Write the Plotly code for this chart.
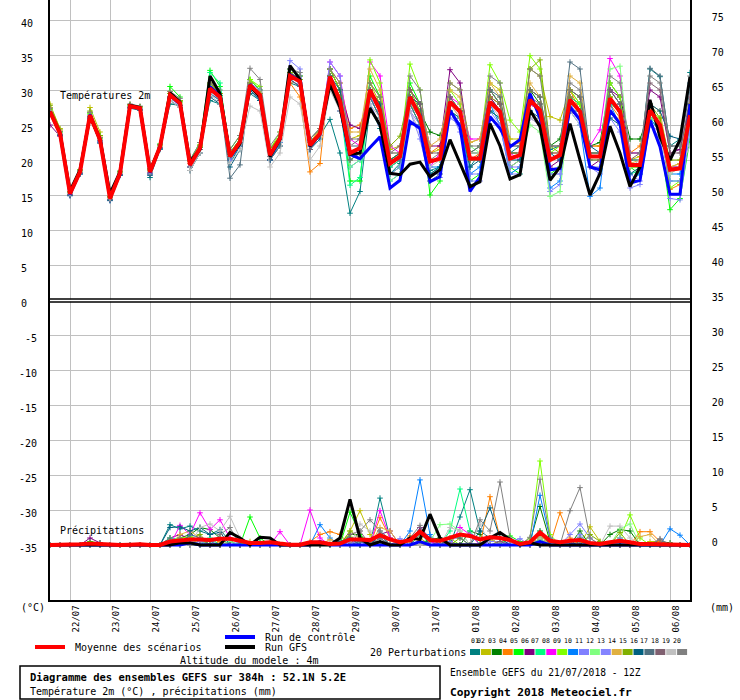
import pandas as pd
import plotly.graph_objects as go

# GEFS run 21/07/2018 12Z, one step every 6h over 384h
times = pd.date_range("2018-07-21 12:00", periods=65, freq="6h")

# 2m temperature (degC)
t_mean = [26.9, 23.8, 15.2, 18.3, 26.4, 22.9, 14.5, 18.1, 27.7, 27.4, 18.3, 21.9, 29.3, 28.1, 19.3, 21.7,
          30.2, 29.0, 20.5, 22.6, 30.7, 29.3, 20.7, 23.1, 32.0, 31.2, 22.1, 23.8, 31.9, 28.4, 21.0, 21.7,
          30.0, 27.1, 19.5, 20.5, 29.0, 26.2, 19.8, 20.2, 28.3, 26.9, 20.2, 20.2, 28.3, 26.9, 20.2, 20.7,
          28.6, 27.1, 20.0, 20.7, 28.6, 26.9, 20.5, 20.5, 28.8, 26.9, 19.3, 19.3, 27.1, 25.0, 18.6, 18.8,
          26.4]
t_gfs = [26.9, 23.9, 15.6, 18.6, 26.2, 23.0, 15.2, 18.3, 27.8, 27.5, 18.5, 21.8, 29.6, 28.3, 19.8, 21.5,
         32.0, 29.5, 20.5, 22.3, 30.5, 29.0, 20.5, 23.0, 33.5, 31.5, 22.0, 23.8, 30.8, 27.5, 20.8, 21.0,
         27.4, 25.0, 18.1, 17.9, 19.4, 19.7, 17.6, 18.6, 22.9, 19.6, 16.2, 16.9, 25.2, 22.0, 17.3, 17.9,
         27.1, 24.8, 17.1, 19.0, 25.2, 20.0, 15.0, 18.1, 24.8, 21.0, 16.2, 19.0, 28.6, 23.3, 20.0, 22.9,
         31.9]
t_ctrl = [26.9, 23.8, 15.1, 18.3, 26.5, 22.9, 14.6, 18.0, 27.7, 27.4, 18.2, 21.9, 29.3, 28.0, 19.3, 21.6,
          30.5, 29.2, 20.6, 22.5, 30.8, 29.3, 20.6, 23.0, 32.2, 31.3, 22.0, 23.7, 31.5, 28.0, 20.8, 20.2,
          21.8, 23.3, 16.0, 17.1, 25.5, 24.5, 16.9, 17.6, 27.1, 24.8, 15.5, 17.6, 26.2, 24.5, 21.9, 22.9,
          29.5, 26.0, 18.6, 18.8, 27.6, 25.7, 19.0, 18.6, 27.1, 25.2, 16.7, 17.1, 25.7, 21.9, 15.1, 15.1,
          28.0]

t01 = [26.8, 23.6, 15.0, 18.0, 26.0, 22.5, 14.3, 18.0, 27.5, 27.3, 17.5, 21.5, 28.0, 27.8, 19.0, 21.5,
       28.5, 28.0, 19.5, 22.0, 29.5, 28.5, 20.0, 22.5, 31.0, 30.5, 21.5, 23.5, 25.8, 21.0, 12.4, 15.5,
       27.5, 24.5, 18.0, 19.5, 28.0, 25.0, 18.5, 19.0, 27.0, 25.0, 19.0, 21.0, 30.0, 28.0, 21.0, 22.0,
       30.0, 29.0, 21.5, 22.0, 29.0, 28.0, 21.0, 21.0, 30.0, 28.0, 20.0, 20.0, 33.0, 31.9, 22.0, 23.0,
       32.5]
t02 = [28.0, 24.5, 15.5, 18.5, 27.5, 24.0, 14.8, 18.3, 27.9, 27.6, 18.6, 22.2, 29.8, 28.5, 20.0, 22.0,
       31.0, 29.5, 21.0, 23.0, 31.5, 30.0, 21.5, 23.5, 32.5, 31.5, 22.5, 24.0, 33.0, 30.0, 23.0, 23.5,
       31.0, 28.0, 21.5, 22.0, 30.0, 28.0, 21.0, 21.5, 31.0, 30.0, 22.5, 23.0, 31.0, 30.0, 23.0, 23.0,
       33.0, 32.0, 26.2, 25.7, 30.0, 28.0, 22.0, 22.0, 29.0, 27.0, 20.0, 20.5, 26.0, 25.0, 19.0, 19.5,
       27.0]
t03 = [27.5, 24.0, 15.3, 18.4, 26.8, 23.0, 14.6, 18.2, 27.8, 27.5, 18.5, 22.0, 29.5, 28.3, 19.5, 21.8,
       30.5, 29.2, 20.8, 23.0, 31.0, 29.5, 21.0, 23.5, 32.5, 31.5, 22.0, 24.0, 31.0, 29.0, 22.0, 22.0,
       30.0, 28.0, 20.0, 21.0, 29.0, 27.0, 24.0, 23.5, 28.0, 27.0, 21.0, 21.0, 29.0, 27.0, 21.0, 21.0,
       30.0, 28.0, 22.0, 23.0, 30.0, 29.0, 22.0, 22.5, 31.0, 29.0, 23.0, 23.0, 27.0, 25.0, 19.0, 19.0,
       26.0]
t04 = [27.0, 23.8, 15.2, 18.3, 26.5, 23.0, 14.5, 18.0, 27.6, 27.3, 18.0, 21.8, 29.5, 28.0, 19.5, 22.0,
       30.0, 28.8, 20.5, 22.5, 30.5, 29.0, 20.5, 23.0, 31.0, 29.0, 18.3, 19.5, 33.0, 31.0, 24.5, 25.0,
       29.0, 26.0, 20.0, 21.0, 29.0, 26.0, 21.0, 22.0, 28.0, 26.0, 20.0, 21.0, 29.0, 28.0, 22.0, 22.5,
       30.0, 29.0, 21.0, 21.0, 30.0, 27.0, 22.0, 22.0, 28.0, 26.0, 21.0, 22.0, 27.0, 25.0, 15.8, 16.5,
       25.0]
t05 = [27.3, 24.0, 15.4, 18.6, 26.8, 23.5, 14.8, 18.4, 27.9, 27.6, 18.8, 22.3, 30.5, 29.0, 20.0, 22.5,
       32.8, 30.5, 21.5, 23.5, 31.5, 30.0, 21.0, 23.5, 33.0, 32.0, 23.0, 24.5, 33.0, 30.0, 17.0, 17.0,
       32.0, 29.0, 18.0, 19.0, 31.0, 28.0, 15.0, 17.0, 29.0, 27.0, 17.0, 18.0, 30.0, 28.0, 19.0, 18.0,
       27.0, 25.0, 18.0, 19.0, 28.0, 27.0, 21.0, 21.0, 29.0, 27.0, 19.0, 18.0, 25.0, 23.0, 12.9, 14.5,
       23.0]
t06 = [25.0, 23.4, 15.0, 18.2, 26.2, 22.8, 14.4, 18.0, 27.5, 27.2, 18.2, 21.8, 29.0, 27.8, 19.0, 21.5,
       30.0, 28.5, 20.0, 22.0, 30.5, 29.0, 20.0, 22.5, 32.5, 31.5, 23.0, 24.5, 33.0, 30.0, 25.0, 24.5,
       30.0, 27.0, 19.0, 20.0, 30.0, 28.0, 22.0, 22.0, 32.9, 31.0, 21.0, 22.0, 29.0, 27.0, 19.0, 20.0,
       28.0, 27.0, 19.0, 20.0, 27.0, 26.0, 19.0, 20.0, 30.0, 29.0, 21.0, 21.0, 30.0, 29.0, 21.0, 21.5,
       28.0]
t07 = [27.0, 24.0, 15.2, 18.4, 26.6, 23.2, 14.6, 18.2, 27.7, 27.4, 18.4, 22.0, 29.5, 28.5, 19.5, 22.0,
       32.5, 31.0, 21.0, 23.0, 31.0, 29.5, 20.5, 23.0, 32.5, 31.5, 22.5, 24.0, 32.0, 28.0, 16.4, 17.5,
       29.0, 26.0, 19.0, 20.0, 28.0, 25.0, 18.0, 19.0, 27.0, 26.0, 20.0, 20.0, 27.0, 26.0, 18.0, 19.0,
       28.0, 27.0, 20.0, 21.0, 29.0, 28.0, 21.0, 21.0, 28.0, 27.0, 18.0, 18.5, 26.0, 24.0, 17.0, 17.0,
       25.0]
t08 = [26.5, 23.7, 15.1, 18.2, 26.3, 22.8, 14.4, 18.0, 27.6, 27.3, 18.2, 21.8, 29.5, 28.5, 19.5, 21.5,
       30.5, 29.5, 20.5, 22.5, 31.0, 29.5, 21.0, 23.0, 32.0, 31.0, 22.0, 23.5, 34.0, 32.0, 23.0, 22.0,
       34.0, 32.0, 22.0, 21.0, 28.0, 26.0, 19.0, 21.0, 29.0, 28.0, 23.0, 23.0, 29.0, 28.0, 21.0, 20.0,
       28.0, 27.0, 20.0, 21.0, 29.0, 27.0, 22.0, 24.3, 34.5, 32.0, 21.0, 21.0, 27.0, 25.0, 19.0, 19.0,
       27.0]
t09 = [27.2, 24.0, 15.3, 18.4, 26.6, 23.1, 14.6, 18.2, 27.8, 27.5, 18.6, 22.1, 29.5, 28.3, 19.8, 22.2,
       30.8, 29.5, 21.0, 23.0, 31.5, 30.5, 21.5, 24.0, 33.0, 32.0, 22.5, 24.5, 33.0, 30.0, 21.0, 21.0,
       34.3, 31.0, 20.0, 21.0, 33.7, 30.0, 20.0, 20.0, 30.0, 28.0, 21.0, 22.0, 33.6, 31.0, 25.7, 24.0,
       34.9, 33.0, 21.0, 22.0, 30.0, 28.0, 20.0, 20.0, 31.0, 29.0, 19.0, 19.0, 27.0, 26.0, 16.0, 17.0,
       26.0]
t10 = [26.8, 23.7, 15.0, 18.2, 26.2, 22.7, 14.3, 17.9, 27.6, 27.3, 18.0, 21.7, 29.0, 27.8, 19.0, 21.5,
       29.5, 28.5, 20.0, 22.0, 30.0, 28.5, 20.0, 22.5, 31.5, 30.5, 21.5, 23.5, 31.0, 27.0, 19.0, 20.0,
       29.0, 26.0, 17.0, 18.0, 29.0, 27.0, 19.0, 19.0, 27.0, 25.0, 18.0, 19.0, 28.0, 25.0, 18.0, 19.0,
       27.0, 25.0, 16.0, 17.0, 27.0, 25.0, 14.8, 16.0, 28.0, 25.0, 17.0, 18.0, 26.0, 24.0, 18.0, 18.0,
       25.0]
t11 = [26.5, 23.5, 14.9, 18.0, 26.0, 22.5, 14.2, 17.8, 27.5, 27.2, 18.0, 21.6, 29.0, 27.5, 19.0, 21.5,
       30.0, 29.0, 20.5, 22.5, 31.0, 30.0, 21.0, 23.0, 34.2, 33.0, 22.5, 24.0, 34.0, 32.0, 21.0, 21.0,
       28.0, 25.0, 18.0, 19.0, 27.0, 23.0, 17.0, 17.5, 27.0, 24.0, 18.0, 18.0, 26.0, 25.0, 18.0, 18.0,
       27.0, 25.0, 15.5, 16.5, 28.0, 26.0, 19.0, 18.0, 27.0, 25.0, 18.0, 17.0, 25.0, 23.0, 14.5, 14.3,
       24.0]
t12 = [27.1, 23.9, 15.2, 18.4, 26.5, 23.0, 14.5, 18.1, 27.7, 27.4, 18.3, 22.0, 29.0, 28.0, 19.0, 21.5,
       30.0, 29.0, 20.5, 22.5, 30.5, 29.5, 21.0, 23.5, 32.0, 31.0, 22.0, 24.0, 32.0, 29.0, 19.0, 20.0,
       30.0, 27.0, 17.0, 18.0, 28.0, 26.0, 20.0, 20.0, 27.0, 26.0, 22.0, 21.0, 27.0, 26.0, 19.0, 20.0,
       25.0, 24.0, 14.8, 15.5, 28.0, 27.0, 21.0, 21.0, 33.0, 33.4, 20.0, 20.0, 26.0, 25.0, 18.0, 19.0,
       25.0]
t13 = [26.7, 23.6, 15.0, 18.1, 26.3, 22.8, 14.4, 18.0, 27.6, 27.3, 18.1, 21.8, 29.0, 27.8, 19.0, 21.5,
       30.0, 28.8, 20.0, 22.5, 30.5, 29.0, 20.5, 23.0, 32.0, 31.0, 22.0, 23.5, 31.0, 27.0, 22.0, 22.0,
       29.0, 27.0, 20.0, 20.0, 27.0, 25.0, 18.0, 18.0, 26.0, 25.0, 17.0, 17.0, 27.0, 25.0, 19.0, 19.0,
       26.0, 25.0, 18.0, 18.0, 28.0, 26.0, 19.0, 19.0, 26.0, 24.0, 16.0, 16.5, 25.0, 24.0, 17.0, 17.0,
       24.0]
t14 = [27.5, 24.2, 15.4, 18.5, 26.8, 23.3, 14.7, 18.3, 27.9, 27.5, 18.5, 22.0, 29.5, 28.5, 19.5, 22.0,
       30.5, 29.5, 21.0, 23.0, 31.0, 29.5, 21.0, 23.5, 32.5, 31.5, 22.5, 24.5, 32.0, 29.0, 24.0, 24.0,
       33.0, 30.0, 21.0, 21.0, 29.0, 28.0, 22.0, 23.0, 30.0, 29.0, 22.5, 23.0, 31.0, 29.0, 21.0, 21.0,
       31.0, 29.0, 22.0, 22.0, 32.0, 31.0, 21.0, 21.0, 29.0, 27.0, 19.5, 20.0, 28.0, 27.0, 19.0, 19.5,
       27.0]
t15 = [27.8, 24.4, 15.5, 18.6, 27.0, 23.5, 14.8, 18.4, 27.9, 27.6, 18.7, 22.2, 29.5, 28.5, 20.0, 22.0,
       31.0, 29.5, 21.0, 23.0, 31.0, 29.5, 21.5, 23.5, 32.5, 31.5, 22.5, 24.0, 32.0, 29.0, 20.0, 21.0,
       31.0, 29.0, 22.0, 23.4, 30.0, 27.0, 20.0, 20.0, 28.0, 27.0, 20.0, 20.0, 29.0, 28.0, 21.0, 21.0,
       33.0, 34.3, 22.0, 21.0, 29.0, 27.0, 21.0, 21.0, 29.0, 27.0, 19.0, 19.0, 28.0, 26.0, 20.0, 20.0,
       28.0]
t16 = [26.6, 23.5, 14.9, 18.0, 26.0, 22.4, 14.2, 17.8, 27.4, 27.1, 17.8, 21.6, 28.5, 27.5, 18.5, 21.0,
       29.0, 28.0, 19.0, 21.5, 30.0, 28.5, 20.0, 22.0, 31.5, 30.5, 21.5, 23.0, 32.0, 30.0, 21.0, 22.0,
       30.0, 28.0, 20.0, 21.0, 29.0, 28.0, 18.0, 19.0, 27.0, 26.0, 19.0, 20.0, 27.0, 26.0, 20.0, 20.0,
       27.0, 26.0, 21.0, 20.0, 27.0, 27.0, 22.0, 21.0, 26.0, 25.0, 18.0, 19.0, 28.0, 27.0, 23.4, 23.0,
       31.0]
t17 = [26.6, 23.6, 15.0, 18.1, 26.2, 22.7, 14.3, 17.9, 27.5, 27.2, 18.0, 21.7, 28.5, 27.5, 18.5, 21.0,
       29.5, 28.5, 17.4, 19.3, 30.5, 29.0, 20.0, 22.0, 33.0, 32.0, 22.0, 23.5, 31.0, 27.0, 20.0, 21.0,
       29.0, 26.0, 20.0, 20.0, 28.0, 25.0, 17.0, 18.0, 29.0, 27.0, 21.0, 22.0, 30.0, 29.0, 22.0, 22.0,
       30.0, 29.0, 22.0, 22.0, 34.0, 33.0, 21.0, 21.0, 30.0, 28.0, 20.0, 20.0, 33.1, 32.0, 22.0, 22.0,
       30.0]
t18 = [26.8, 23.7, 15.1, 18.2, 26.3, 22.8, 14.4, 18.0, 27.6, 27.3, 18.2, 21.8, 29.0, 27.8, 19.0, 21.5,
       30.0, 28.8, 20.5, 22.5, 30.5, 29.0, 20.5, 23.0, 31.5, 30.5, 21.5, 23.5, 32.0, 28.0, 22.0, 23.0,
       30.0, 27.0, 21.0, 22.0, 30.0, 28.0, 21.0, 21.0, 29.0, 27.0, 20.0, 20.0, 30.0, 28.0, 21.0, 21.0,
       29.0, 28.0, 21.0, 21.0, 30.0, 29.0, 20.0, 20.0, 30.0, 28.0, 20.0, 21.0, 31.0, 30.0, 21.0, 21.0,
       29.0]
t19 = [27.0, 23.8, 15.2, 18.3, 26.4, 22.9, 14.5, 18.1, 27.7, 27.4, 18.3, 21.9, 28.5, 27.5, 18.5, 21.0,
       29.5, 28.0, 19.5, 21.5, 27.7, 27.0, 19.0, 21.0, 29.0, 28.0, 20.0, 22.0, 30.0, 27.0, 22.0, 22.0,
       28.0, 26.0, 21.0, 21.0, 27.0, 24.0, 19.0, 20.0, 28.0, 26.0, 21.0, 21.0, 28.0, 26.0, 20.0, 21.0,
       26.0, 25.0, 20.0, 21.0, 27.0, 25.0, 19.0, 19.0, 27.0, 25.0, 19.0, 20.0, 25.0, 23.0, 18.0, 19.0,
       22.0]
t20 = [27.4, 24.1, 15.4, 18.5, 26.8, 23.2, 14.7, 18.3, 28.0, 27.7, 18.6, 22.2, 29.8, 28.8, 20.0, 22.5,
       31.0, 30.0, 21.5, 23.5, 33.1, 31.5, 22.0, 24.0, 33.0, 32.5, 23.0, 24.5, 33.0, 31.0, 23.0, 23.0,
       31.0, 29.0, 21.0, 21.0, 32.0, 30.0, 20.0, 21.0, 31.0, 30.0, 22.0, 22.0, 32.0, 31.0, 22.0, 22.0,
       33.0, 32.0, 22.0, 22.0, 31.0, 30.0, 21.0, 21.0, 32.0, 31.0, 21.0, 21.0, 32.0, 31.0, 22.0, 22.0,
       32.0]

# precipitation (mm / 6h)
p_mean = [0, 0, 0, 0.1, 0.2, 0.1, 0, 0, 0.05, 0.1, 0, 0, 0.5, 0.7, 0.8, 0.8,
          0.7, 0.9, 0.9, 0.6, 0.3, 0.3, 0.4, 0.2, 0.05, 0.05, 0.4, 0.4, 0.15, 0.2, 0.8, 0.8,
          0.7, 1.4, 0.8, 0.4, 0.7, 1.9, 0.7, 0.6, 1.0, 1.5, 1.3, 0.8, 1.1, 1.0, 0.7, 0.15,
          0.4, 1.8, 0.6, 0.4, 0.6, 0.7, 0.3, 0.15, 0.4, 0.6, 0.4, 0.15, 0.15, 0.15, 0.15, 0.05,
          0]
p_gfs = [0, 0, 0, 0, 0, 0, 0, 0, 0, 0, 0, 0, 0, 0.3, 0.3, 0,
         0, 0, 1.8, 1.0, 0, 1.1, 1.0, 0, 0, 0, 0, 0, 0, 1.0, 6.5, 1.0,
         0, 0.5, 0, 0, 1.0, 0.8, 4.4, 1.0, 0, 0, 0, 0, 1.0, 1.8, 0.8, 0,
         0.3, 0, 0, 0, 0, 0, 0, 0, 0, 0, 0, 0, 0, 0, 0, 0,
         0]
p_ctrl = [0, 0, 0, 0, 0, 0, 0, 0, 0, 0, 0, 0, 0, 0, 0.3, 0,
          0, 0, 0, 0, 0, 0, 0, 0, 0, 0, 0, 0.5, 0, 0, 0, 0,
          0, 0, 0, 0, 0, 0.5, 0, 0, 0, 0, 0, 0, 0, 0, 0, 0,
          0, 0.5, 0, 0, 0, 0, 0, 0, 0, 0, 0, 0, 0, 0, 0, 0,
          0]

p01 = [0, 0, 0, 0, 0, 0, 0, 0, 0, 0, 0, 0, 2.9, 2.3, 2.7, 2.0,
       1.5, 2.2, 0.5, 0, 0, 0, 0.3, 0, 0, 0, 0, 0, 0, 0, 1.0, 0.5,
       0, 6.7, 1.0, 0, 0, 1.5, 0.5, 0, 0, 4.0, 7.9, 2.0, 1.0, 0, 0, 0,
       0, 1.0, 0, 0, 0, 0.5, 0, 0, 0, 0, 0, 0, 0, 0, 0, 0,
       0]
p02 = [0, 0, 0, 0, 0.3, 0, 0, 0, 0, 0, 0, 0, 0, 0.5, 1.0, 0.8,
       0, 0, 0, 0, 0.5, 0.5, 0, 0, 0, 0, 0, 0, 0, 0, 2.0, 4.9,
       1.5, 0, 0, 0, 0.5, 1.0, 0, 0, 0.5, 0, 0, 0, 0.8, 0, 0, 0,
       0, 1.5, 0, 0, 0, 0, 2.6, 0.5, 0, 0, 0, 0, 0.5, 0.5, 0, 0,
       0]
p03 = [0, 0, 0, 0, 0, 0, 0, 0, 0, 0, 0, 0, 0, 1.0, 1.5, 2.5,
       2.2, 1.0, 0, 0.3, 0, 0, 0, 0, 0, 0, 0, 0, 0, 0, 1.5, 1.5,
       0, 0, 0, 0, 0, 0, 0.8, 1.0, 0, 0, 2.0, 1.5, 0, 0, 0, 0,
       0.5, 5.5, 0.5, 0, 0, 2.0, 0, 0, 1.5, 2.2, 2.0, 0, 0, 0.5, 0.3, 0,
       0]
p04 = [0, 0, 0, 0, 0, 0, 0, 0, 0, 0, 0, 0, 0, 0.5, 0.8, 0,
       0, 0.5, 0, 0, 0, 0, 0, 0, 0, 0, 0.5, 1.5, 1.9, 1.5, 0, 0,
       0, 3.9, 1.0, 0, 1.3, 0.5, 0, 0, 0, 0, 0, 0, 6.9, 1.0, 0, 0,
       0, 1.0, 0, 4.6, 1.0, 0, 0, 0, 0, 0, 0, 1.9, 1.9, 0.5, 0, 0,
       0]
p05 = [0, 0, 0, 0, 0.5, 0.3, 0, 0, 0, 0, 0, 0, 0, 0, 1.0, 0.5,
       0, 0, 0, 0, 4.0, 1.0, 0, 0, 0, 0, 0, 0, 0, 0, 4.7, 1.5,
       0, 0, 0, 0, 0, 0, 1.0, 0.5, 0, 0, 0, 0, 0, 0, 1.3, 0.5,
       0, 2.0, 0, 0, 0, 0, 0, 0, 0, 0, 0, 0, 0, 0, 0, 0,
       0]
p06 = [0, 0, 0, 0, 1.0, 0.3, 0, 0, 0, 0, 0, 0, 1.0, 1.5, 0.8, 0,
       0, 0, 0, 0, 0, 0, 0, 0, 0, 0, 0, 0, 0, 0, 0.5, 0,
       0, 1.5, 2.0, 0, 0, 2.5, 1.0, 0, 0, 0, 0, 0, 0.5, 0.5, 0, 0,
       0, 0, 0, 0, 0, 0, 0, 0, 0, 0, 0, 0, 0, 0, 0, 0,
       0]
p07 = [0, 0, 0, 0, 0, 0, 0, 0, 0, 0, 0, 0, 1.0, 0.8, 0, 0,
       1.0, 0, 0, 0, 0, 0.5, 0, 0, 0, 0, 0, 0, 0, 0, 0, 0,
       0, 1.0, 0, 0, 0, 0, 0, 0, 2.0, 8.0, 2.0, 0, 0, 0, 0, 0,
       0, 0.8, 0, 0, 0, 0, 0, 0, 0, 1.0, 0, 0, 0, 0, 0, 0,
       0]
p08 = [0, 0, 0, 0, 0, 0, 0, 0, 0, 0, 0, 0, 0, 2.8, 1.5, 4.6,
       2.2, 3.6, 1.0, 0.5, 0, 0, 0, 1.9, 0, 0, 5.0, 1.0, 0, 0, 1.0, 0,
       0, 4.9, 1.0, 0, 0, 0, 0.5, 0, 0, 2.5, 1.5, 0, 0, 0, 0, 0,
       0, 0, 0, 0, 0, 0, 0, 0, 0, 0, 0, 0, 0, 0, 0, 0,
       0]
p09 = [0, 0, 0, 0, 0, 0, 0, 0, 0, 0, 0, 0, 0.5, 1.0, 1.2, 0,
       0, 0, 0, 0.3, 0, 0, 0, 0, 0, 0, 0, 0, 0, 0, 1.5, 0,
       0, 0.5, 0, 0, 0, 0, 0, 0, 1.0, 0, 0, 0, 0, 0, 0, 0,
       1.0, 12.0, 1.5, 0, 0, 0, 0, 0, 0, 1.0, 4.3, 1.0, 0, 0, 0, 0,
       0]
p10 = [0, 0, 0, 0, 0, 0, 0, 0, 0, 0, 0, 0, 0, 0, 1.5, 1.0,
       0.5, 0, 0, 0, 0, 0, 0, 0, 0, 0, 0, 2.9, 1.0, 0, 0, 0.5,
       0, 0, 0, 0, 2.0, 9.3, 1.5, 0, 0, 0, 0, 0, 1.0, 0, 0, 0,
       0, 7.1, 1.0, 0, 0, 0, 0, 0, 0, 0, 0, 0, 0, 0, 2.3, 1.4,
       0]
p11 = [0, 0, 0, 0, 0, 0, 0, 0, 0, 0, 0, 0, 0, 0.5, 0.8, 0,
       0, 0, 0, 0.5, 0, 0, 0, 0, 0, 0, 0, 0, 0, 0, 0.5, 0.5,
       0, 0, 0, 0.9, 0, 0, 0, 0, 0.5, 0, 0, 0, 0, 0, 0.5, 0.9,
       0, 0, 0, 0, 1.5, 3.0, 1.0, 0, 0, 0, 0, 0, 0, 0, 0, 0,
       0]
p12 = [0, 0, 0, 0, 0, 0, 0, 0, 0, 0, 0, 0, 1.0, 0, 0.8, 0,
       0, 0, 0.5, 0, 0, 0, 0, 0, 0, 0, 0, 0, 0, 0, 1.0, 0,
       0, 0, 0, 0, 0, 0, 0.5, 2.9, 3.0, 2.0, 0, 0, 0, 0.5, 0, 0,
       0, 0, 0, 0, 0, 1.0, 0, 0, 0, 2.3, 3.0, 0, 0, 0, 0, 0,
       0]
p13 = [0, 0, 0, 0, 0, 0, 0, 0, 0, 0, 0, 0, 0, 0.8, 0, 0.5,
       0, 0, 0, 0, 0, 0, 0, 0, 0, 0, 0, 0, 0, 0, 0.5, 0,
       0, 1.0, 0, 0, 0, 0.5, 0, 0, 0, 0, 0, 0, 0.5, 0.5, 0, 0,
       0, 0, 0, 0, 0, 1.5, 0, 0, 0, 1.0, 0, 0, 0, 0, 0, 0,
       0]
p14 = [0, 0, 0, 0, 0, 0, 0, 0, 0, 0, 0, 0, 0, 1.5, 2.0, 1.0,
       0, 0, 0, 0, 0, 0, 0.5, 0, 0, 0, 0, 0, 0.8, 0, 0, 0,
       0, 2.5, 2.0, 0, 0, 0, 0, 0, 0, 0, 0, 0, 1.0, 0, 0, 0,
       0, 1.5, 0, 0, 0, 0, 0, 0, 0, 0, 0, 1.2, 1.5, 0, 0, 0,
       0]
p15 = [0, 0, 0, 0, 0, 0, 0, 0, 0, 0, 0, 0, 0, 0, 0.8, 1.5,
       0, 0, 0, 0, 0, 0, 0, 0, 0, 0, 0, 0, 0, 0, 2.0, 1.0,
       0, 0, 0, 0, 0, 0.5, 0, 0, 0, 1.0, 0, 0, 0, 0, 0, 0,
       0, 1.0, 0, 0, 0, 0, 1.5, 0.5, 0, 1.8, 0, 0, 0, 0, 0, 0,
       0]
p16 = [0, 0, 0, 0, 0, 0, 0, 0, 0, 0, 0, 0, 2.5, 2.6, 2.0, 2.5,
       1.5, 1.8, 0, 0, 0, 0, 0, 0, 0, 0, 0, 0, 0, 0.5, 1.0, 0,
       0, 1.5, 0, 0, 1.0, 2.0, 0, 0, 0, 0, 0, 2.0, 5.3, 1.0, 0, 0,
       0, 0, 0, 0, 0, 0, 0, 0, 0, 0, 0, 0, 0, 0, 0, 0,
       0]
p17 = [0, 0, 0, 0, 0, 0, 0, 0, 0, 0, 0, 0, 1.0, 0, 1.5, 1.0,
       0, 0, 0, 0, 0, 0, 0, 0, 0, 0, 0, 0, 0, 0, 0, 0.5,
       0, 2.0, 0.8, 0, 0, 0, 0, 0, 1.0, 1.0, 0, 0, 0, 0, 0, 0,
       0, 2.0, 0, 0, 0, 1.0, 0, 0, 0, 0, 0, 0, 0, 0, 0, 0,
       0]
p18 = [0, 0, 0, 0, 0, 0, 0, 0, 0, 0, 0, 0, 0, 0.5, 0, 0,
       0, 0, 0, 0, 0, 0, 0, 0, 0, 0, 0, 0, 0, 0, 1.5, 2.0,
       0, 1.0, 0, 0, 0, 0, 0, 0.5, 0, 0, 0, 0, 0, 0.5, 0, 0,
       0, 0, 0, 0, 0, 0, 0, 0, 0, 0, 0, 0, 0, 0.8, 0, 0,
       0]
p19 = [0, 0, 0, 0, 0, 0, 0, 0, 0, 0, 0, 0, 0, 0, 0, 2.5,
       3.0, 2.0, 4.1, 1.0, 0, 0, 0, 0, 0, 0, 0, 0, 0, 0, 0, 3.0,
       2.0, 0, 0, 0, 0, 0, 0, 0, 2.5, 2.0, 0, 3.0, 0, 0, 0, 0,
       0, 1.0, 0, 0, 0, 0, 0, 0, 2.7, 2.7, 1.0, 0, 0, 0, 0, 0,
       0]
p20 = [0, 0, 0, 0, 0, 0, 0, 0, 0, 0, 0, 0, 0, 1.0, 0, 0,
       0, 1.5, 2.5, 0, 0, 0, 0, 0, 0, 0, 0, 0, 0, 0, 0, 2.0,
       3.6, 2.0, 0, 0, 1.0, 2.8, 0, 0, 0, 0, 0, 3.6, 2.0, 9.0, 1.0, 0,
       1.1, 9.4, 1.0, 0, 4.9, 8.2, 1.0, 0, 0, 0, 0, 0, 0, 0.9, 0, 0,
       0]

member_names = ["01", "02", "03", "04", "05", "06", "07", "08", "09", "10",
                "11", "12", "13", "14", "15", "16", "17", "18", "19", "20"]
member_colors = ["#008080", "#c0c000", "#008000", "#ff8000", "#00ff00", "#800080", "#00ff80",
                 "#ff00ff", "#80ff00", "#0080ff", "#8080ff", "#80ff80", "#8484ff", "#e0b040",
                 "#80b000", "#006080", "#507080", "#806070", "#c0c0c0", "#808080"]
t_members = [t01, t02, t03, t04, t05, t06, t07, t08, t09, t10,
             t11, t12, t13, t14, t15, t16, t17, t18, t19, t20]
p_members = [p01, p02, p03, p04, p05, p06, p07, p08, p09, p10,
             p11, p12, p13, p14, p15, p16, p17, p18, p19, p20]

FONT = "DejaVu Sans Mono"
W, H = 740, 700
ML, MR, MT, MB = 50, 50, 0, 100
PW, PH = W - ML - MR, H - MT - MB


def px(x):
    # page pixel -> paper x
    return (x - ML) / PW


def py(y):
    # page pixel -> paper y
    return (MT + PH - y) / PH


fig = go.Figure()

for name, color, tv, pv in zip(member_names, member_colors, t_members, p_members):
    for vals, ax in ((tv, "y"), (pv, "y2")):
        fig.add_trace(go.Scatter(
            x=times, y=vals, yaxis=ax, mode="lines+markers", name=name,
            line=dict(color=color, width=1),
            marker=dict(symbol="cross-thin", size=4, line=dict(color=color, width=1)),
        ))

for vals, ax, color, width in ((t_ctrl, "y", "#0000ff", 3), (p_ctrl, "y2", "#0000ff", 3),
                               (t_gfs, "y", "#000000", 3), (p_gfs, "y2", "#000000", 3),
                               (t_mean, "y", "#ff0000", 4), (p_mean, "y2", "#ff0000", 4)):
    fig.add_trace(go.Scatter(x=times, y=vals, yaxis=ax, mode="lines",
                             line=dict(color=color, width=width)))

shapes = []
# separation between the two panels
shapes.append(dict(type="rect", xref="paper", yref="paper", x0=0, x1=1, y0=py(301.5), y1=py(299.5),
                   fillcolor="white", line=dict(width=0), layer="above"))
for yy in (299, 302):
    shapes.append(dict(type="line", xref="paper", yref="paper", x0=0, x1=1, y0=py(yy), y1=py(yy),
                       line=dict(color="black", width=1.5), layer="above"))

# legend lines
for x0, x1, yy, c in ((35, 65, 647, "#ff0000"), (225, 255, 637, "#0000ff"), (225, 255, 647, "#000000")):
    shapes.append(dict(type="line", xref="paper", yref="paper", x0=px(x0), x1=px(x1), y0=py(yy), y1=py(yy),
                       line=dict(color=c, width=4)))

annotations = []
for k, c in enumerate(member_colors):
    x0 = 470 + 10.9 * k
    shapes.append(dict(type="rect", xref="paper", yref="paper", x0=px(x0), x1=px(x0 + 10),
                       y0=py(655), y1=py(649), fillcolor=c, line=dict(width=0)))
    annotations.append(dict(x=px(x0 + 5), y=py(645.5), xref="paper", yref="paper", text=member_names[k],
                            showarrow=False, borderpad=0,
                            font=dict(family=FONT, size=6.5, color="black")))

# title box
shapes.append(dict(type="rect", xref="paper", yref="paper", x0=px(20), x1=px(440), y0=py(699), y1=py(666),
                   line=dict(color="black", width=1.5), fillcolor="rgba(0,0,0,0)"))


def note(text, x, y, anchor="left", size=10):
    annotations.append(dict(x=px(x), y=py(y), xref="paper", yref="paper",
                            text=text, showarrow=False, xanchor=anchor, yanchor="middle", borderpad=0,
                            font=dict(family=FONT, size=size, color="black")))


# left temperature labels
for v in range(-35, 45, 5):
    annotations.append(dict(x=px(20) if v >= 0 else px(38), y=v, xref="paper", yref="y", text=str(v),
                            showarrow=False, xanchor="left" if v >= 0 else "right", yshift=-3,
                            borderpad=0, font=dict(family=FONT, size=10, color="black")))

note("Températures 2m", 59, 95)
note("Précipitations", 59, 530)
note("(°C)", 20, 607)
note("(mm)", 709, 607)
note("Moyenne des scénarios", 74, 647)
note("Run de contrôle", 264, 637)
note("Run GFS", 264, 647)
note("Altitude du modele : 4m", 179, 660)
note("20 Perturbations", 369, 652)
note("<b>Diagramme des ensembles GEFS sur 384h : 52.1N 5.2E</b>", 29, 677, size=10.5)
note("Température 2m (°C) , précipitations (mm)", 29, 691)
note("Ensemble GEFS du 21/07/2018 - 12Z", 449, 672, size=9.6)
note("<b>Copyright 2018 Meteociel.fr</b>", 449, 692, size=11.2)

fig.update_layout(
    width=W, height=H,
    margin=dict(l=ML, r=MR, t=MT, b=MB, pad=0),
    paper_bgcolor="white", plot_bgcolor="white",
    showlegend=False,
    font=dict(family=FONT, size=10, color="black"),
    shapes=shapes, annotations=annotations,
    xaxis=dict(
        range=[times[0], times[-1]],
        tick0="2018-07-22", dtick=86400000, tickformat="%d/%m", tickangle=-90,
        ticklabelshift=6, ticklabelstandoff=0,
        showgrid=True, gridcolor="#c0c0c0", gridwidth=1,
        showline=True, linecolor="black", linewidth=1.5, zeroline=False, ticks="",
        tickfont=dict(family=FONT, size=9, color="black"),
    ),
    yaxis=dict(
        range=[-300 / 7, 300 / 7], tickvals=list(range(-35, 45, 5)), showticklabels=False,
        showgrid=True, gridcolor="#c0c0c0", gridwidth=1,
        showline=True, linecolor="black", linewidth=1.5, zeroline=False, ticks="",
    ),
    yaxis2=dict(
        overlaying="y", side="right",
        range=[-55 / 7, 545 / 7], tickvals=list(range(0, 80, 5)),
        showgrid=False, showline=True, linecolor="black", linewidth=1.5, zeroline=False, ticks="",
        ticklabelstandoff=18, ticklabelshift=-3,
        tickfont=dict(family=FONT, size=10, color="black"),
    ),
)

# the page's default 8px body margin would push the figure off the window
fig.write_html("out.html", config={"displayModeBar": False},
               post_script="document.body.style.margin='0';")
